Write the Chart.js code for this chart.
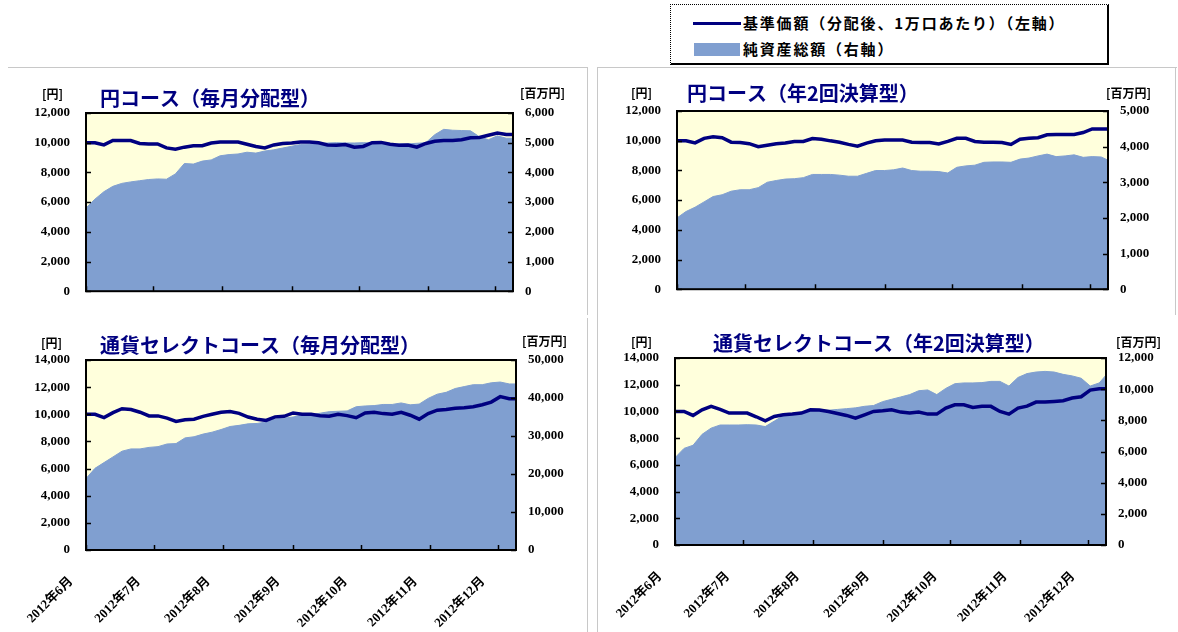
<!DOCTYPE html>
<html><head><meta charset="utf-8">
<script src="https://cdn.jsdelivr.net/npm/chart.js@4.4.1/dist/chart.umd.min.js"></script>
<style>
html,body{margin:0;padding:0;background:#fff;}
body{width:1178px;height:632px;position:relative;overflow:hidden;font-family:"Noto Sans CJK JP",sans-serif;}
canvas{position:absolute;}
.ln{position:absolute;background:#c8c8c8;}
#legend{position:absolute;left:670px;top:4px;width:436px;height:58px;border:1px dotted #000;border-right:2px solid #000;border-bottom:2px solid #000;background:#fff;}
#legend .sw1{position:absolute;left:22px;top:17px;width:48px;height:3px;background:#000080;}
#legend .sw2{position:absolute;left:23px;top:38px;width:46px;height:13px;background:#809fd0;}
#legend .t{position:absolute;left:72px;font-weight:bold;font-size:15px;letter-spacing:1.8px;color:#000;white-space:nowrap;line-height:18px;}
</style></head>
<body>
<div class="ln" style="left:8px;top:67px;width:580px;height:1px"></div>
<div class="ln" style="left:587px;top:67px;width:1px;height:248px"></div>
<div class="ln" style="left:597px;top:67px;width:580px;height:1px"></div>
<div class="ln" style="left:597px;top:67px;width:1px;height:565px"></div>
<div class="ln" style="left:1175px;top:67px;width:1px;height:248px"></div>
<div class="ln" style="left:587px;top:318px;width:1px;height:314px"></div>

<canvas id="c0" width="579" height="247" style="left:8px;top:68px;width:579px;height:247px"></canvas>
<canvas id="c1" width="577" height="245" style="left:598px;top:68px;width:577px;height:245px"></canvas>
<canvas id="c2" width="587" height="314" style="left:0px;top:318px;width:587px;height:314px"></canvas>
<canvas id="c3" width="577" height="314" style="left:598px;top:318px;width:577px;height:314px"></canvas>

<div id="legend">
  <div class="sw1"></div><div class="t" style="top:9px">基準価額（分配後、1万口あたり）（左軸）</div>
  <div class="sw2"></div><div class="t" style="top:35px">純資産総額（右軸）</div>
</div>

<script>
// ---- data ----
const days = [0,4,8,12,16,20,24,28,32,36,40,44,48,52,56,60,64,68,72,76,80,84,88,92,96,100,104,108,112,116,120,124,128,132,136,140,144,148,152,156,160,164,168,172,176,180,184,188,191];
const monthDays = [0,30,61,92,122,153,183];
const monthLabels = ['2012年6月','2012年7月','2012年8月','2012年9月','2012年10月','2012年11月','2012年12月'];
const chartTitles = ['円コース（毎月分配型）','円コース（年2回決算型）','通貨セレクトコース（毎月分配型）','通貨セレクトコース（年2回決算型）'];
const seriesNames = ['基準価額（分配後、1万口あたり）（左軸）','純資産総額（右軸）'];

const navYenMonthly = [10000,10000,9850,10150,10150,10150,9950,9920,9920,9650,9560,9700,9800,9800,9980,10050,10050,10050,9900,9750,9650,9850,9950,9980,10050,10050,10000,9850,9830,9880,9700,9750,10000,10020,9900,9830,9850,9700,9950,10100,10150,10150,10200,10330,10350,10500,10650,10550,10550];
const assetsYenMonthly = [2800,3100,3350,3530,3630,3680,3720,3760,3780,3770,3950,4300,4280,4380,4420,4560,4600,4620,4680,4650,4720,4760,4820,4880,4940,4960,4970,4990,5000,4990,4990,5000,4990,4990,4960,4960,4960,4980,5000,5270,5450,5420,5410,5400,5200,5100,5230,5150,5150];

const navYenSemi = [10000,10000,9850,10160,10260,10200,9900,9880,9800,9600,9700,9800,9850,9950,9950,10150,10100,9990,9900,9750,9630,9840,10000,10050,10050,10050,9900,9880,9880,9780,9950,10160,10160,9950,9900,9900,9880,9750,10100,10160,10200,10400,10410,10410,10420,10550,10790,10790,10790];
const assetsYenSemi = [2000,2180,2300,2450,2600,2650,2750,2790,2790,2850,3000,3050,3090,3100,3130,3220,3220,3220,3200,3170,3170,3250,3330,3330,3350,3400,3330,3310,3310,3300,3260,3420,3460,3480,3560,3570,3570,3560,3650,3680,3740,3790,3720,3740,3770,3700,3720,3710,3620];

const navSelMonthly = [10000,10000,9760,10120,10410,10350,10150,9880,9880,9720,9470,9600,9640,9850,10000,10150,10200,10070,9800,9640,9550,9810,9850,10100,10000,10000,9900,9850,10000,9900,9750,10100,10150,10050,10000,10150,9930,9640,10050,10300,10350,10450,10490,10550,10700,10900,11300,11150,11150];
const assetsSelMonthly = [18800,21500,23000,24500,26000,26600,26600,27000,27200,27900,28000,29500,29800,30500,31000,31700,32500,32800,33200,33300,33700,34500,34700,35000,35500,35600,36000,36400,36500,36600,37700,37900,38000,38300,38300,38700,38200,38400,39900,41000,41500,42500,43000,43500,43500,44000,44200,43700,43700];

const navSelSemi = [10000,10000,9700,10120,10380,10150,9880,9880,9880,9600,9300,9620,9750,9800,9880,10120,10100,10000,9850,9700,9500,9750,10000,10050,10120,9950,9880,9950,9800,9800,10250,10500,10500,10300,10380,10380,10000,9800,10250,10400,10700,10700,10750,10800,11000,11100,11600,11700,11700];
const assetsSelSemi = [5600,6200,6400,7100,7500,7700,7700,7700,7720,7700,7600,7950,8300,8400,8500,8600,8650,8650,8700,8750,8800,8900,8950,9200,9350,9500,9650,9900,9950,9650,10050,10350,10400,10400,10420,10500,10500,10200,10750,11000,11100,11140,11100,10950,10850,10700,10200,10400,10900];

const leftMax = [12000,12000,14000,14000];
const leftStep = [2000,2000,2000,2000];
const rightMax = [6000,5000,50000,12000];
const rightStep = [1000,1000,10000,2000];

// ---- layout / styles ----
const layouts = [
  {id:'c0', padTop:45, wl:78, wr:74, hb:12, labels:false, tDx:14, tDy:-15, luDx:-44, luDy:-19, ruDx:7, ruDy:-20},
  {id:'c1', padTop:43, wl:79, wr:67, hb:13, labels:false, tDx:10, tDy:-18, luDx:-46, luDy:-18, ruDx:-2, ruDy:-18},
  {id:'c2', padTop:42, wl:86, wr:71, hb:82, labels:true,  tDx:14, tDy:-15, luDx:-45, luDy:-17, ruDx:6, ruDy:-19},
  {id:'c3', padTop:40, wl:77, wr:69, hb:87, labels:true,  tDx:38, tDy:-15, luDx:-44, luDy:-16, ruDx:10, ruDy:-16}
];
const navData = [navYenMonthly, navYenSemi, navSelMonthly, navSelSemi];
const assetData = [assetsYenMonthly, assetsYenSemi, assetsSelMonthly, assetsSelSemi];

const NUMFONT = '"Liberation Serif", "Noto Sans CJK JP", serif';
Chart.defaults.font.family = NUMFONT;
Chart.defaults.color = '#000';

const panelPlugin = {
  id: 'panel',
  beforeDraw(chart, args, o) {
    const {ctx, chartArea: a} = chart;
    ctx.save();
    ctx.fillStyle = '#ffffdc';
    ctx.fillRect(a.left, a.top, a.right - a.left, a.bottom - a.top);
    ctx.restore();
  },
  afterDatasetsDraw(chart, args, o) {
    const {ctx, chartArea: a, scales} = chart;
    ctx.save();
    ctx.strokeStyle = '#000';
    ctx.lineWidth = 2;
    ctx.strokeRect(a.left, a.top, a.right - a.left, a.bottom - a.top);
    ctx.lineWidth = 1.5;
    ctx.beginPath();
    scales.x.ticks.forEach(t => { const p = Math.round(scales.x.getPixelForValue(t.value)) + 0.5; ctx.moveTo(p, a.bottom); ctx.lineTo(p, a.bottom - 5); });
    scales.y.ticks.forEach(t => { const p = Math.round(scales.y.getPixelForValue(t.value)) + 0.5; ctx.moveTo(a.left, p); ctx.lineTo(a.left + 5, p); });
    scales.y1.ticks.forEach(t => { const p = Math.round(scales.y1.getPixelForValue(t.value)) + 0.5; ctx.moveTo(a.right, p); ctx.lineTo(a.right - 5, p); });
    ctx.stroke();
    ctx.textBaseline = 'middle';
    ctx.textAlign = 'left';
    ctx.fillStyle = '#000080';
    ctx.font = 'bold 20px "Noto Sans CJK JP"';
    ctx.fillText(o.title, a.left + o.tDx, a.top + o.tDy);
    ctx.fillStyle = '#000';
    ctx.font = 'bold 12px "Noto Sans CJK JP"';
    ctx.fillText('[円]', a.left + o.luDx, a.top + o.luDy);
    ctx.fillText('[百万円]', a.right + o.ruDx, a.top + o.ruDy);
    ctx.restore();
  }
};

layouts.forEach((L, i) => {
  const nav = days.map((d, k) => ({x: d, y: navData[i][k]}));
  const ast = days.map((d, k) => ({x: d, y: assetData[i][k]}));
  new Chart(document.getElementById(L.id), {
    type: 'line',
    data: {
      datasets: [
        {label: seriesNames[0], data: nav, yAxisID: 'y', borderColor: '#000080', borderWidth: 3.5, pointRadius: 0, fill: false, tension: 0, order: 0},
        {label: seriesNames[1], data: ast, yAxisID: 'y1', borderColor: '#809fd0', borderWidth: 1, backgroundColor: '#809fd0', pointRadius: 0, fill: 'origin', tension: 0, order: 1}
      ]
    },
    options: {
      responsive: false,
      animation: false,
      devicePixelRatio: 1,
      layout: {padding: {top: L.padTop, left: 0, right: 0, bottom: 0}},
      plugins: {
        legend: {display: false},
        tooltip: {enabled: false},
        panel: {title: chartTitles[i], tDx: L.tDx, tDy: L.tDy, luDx: L.luDx, luDy: L.luDy, ruDx: L.ruDx, ruDy: L.ruDy}
      },
      scales: {
        x: {
          type: 'linear', min: 0, max: 191,
          afterBuildTicks: s => { s.ticks = monthDays.map(v => ({value: v})); },
          afterFit: s => { s.height = L.hb; },
          grid: {display: false, drawTicks: false},
          border: {display: false},
          ticks: {display: L.labels, autoSkip: false, minRotation: 45, maxRotation: 45, padding: 24, labelOffset: -15,
                  font: {size: 13, weight: 'bold', family: NUMFONT}, color: '#000',
                  callback: (v, idx) => monthLabels[idx]}
        },
        y: {
          position: 'left', min: 0, max: leftMax[i],
          afterFit: s => { s.width = L.wl; },
          grid: {display: false, drawTicks: false},
          border: {display: false},
          ticks: {stepSize: leftStep[i], padding: 16, font: {size: 13, weight: 'bold'}, color: '#000'}
        },
        y1: {
          position: 'right', min: 0, max: rightMax[i],
          afterFit: s => { s.width = L.wr; },
          grid: {display: false, drawTicks: false},
          border: {display: false},
          ticks: {stepSize: rightStep[i], padding: 12, font: {size: 13, weight: 'bold'}, color: '#000'}
        }
      }
    },
    plugins: [panelPlugin]
  });
});
</script>
</body></html>
